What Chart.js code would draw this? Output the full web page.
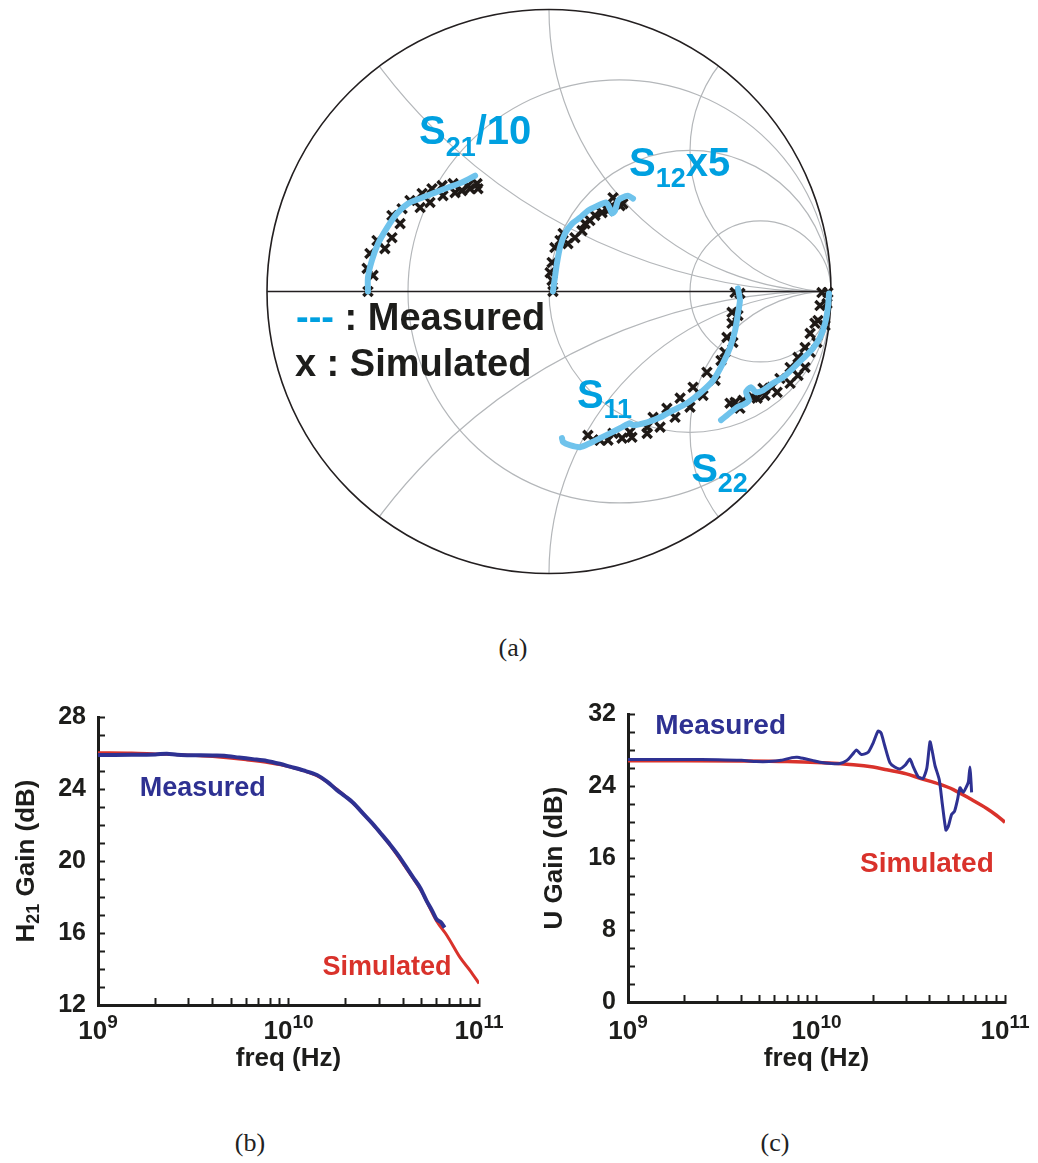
<!DOCTYPE html>
<html>
<head>
<meta charset="utf-8">
<script src="https://cdn.jsdelivr.net/npm/chart.js@4.4.1/dist/chart.umd.min.js"></script>
<style>
  body { margin: 0; background: #fff; }
  #page { position: relative; width: 1038px; height: 1163px; overflow: hidden; background: #fff; }
  canvas { position: absolute; }
  .cap { position: absolute; font-family: "Liberation Serif", "DejaVu Serif", serif; font-size: 26px; color: #222; transform: translate(-50%, -50%); }
</style>
</head>
<body>
<div id="page">
  <canvas id="smith" width="584" height="584" style="left:257px;top:0;width:584px;height:584px"></canvas>
  <div class="cap" style="left:513px;top:648px">(a)</div>
  <canvas id="h21" width="520" height="420" style="left:0;top:680px;width:520px;height:420px"></canvas>
  <canvas id="ugain" width="518" height="420" style="left:520px;top:680px;width:518px;height:420px"></canvas>
  <div class="cap" style="left:250px;top:1143px">(b)</div>
  <div class="cap" style="left:775px;top:1143px">(c)</div>
</div>
<script>
// --- Smith chart grid (normalised r / x of the gray curves)
const resistanceCircles = [1 / 3, 1, 3];
const reactanceArcs = [0.5, 1, 2, -0.5, -1, -2];

// --- S parameters, [Re, Im]
const s21Measured = [[-0.642, 0.000], [-0.642, 0.050], [-0.628, 0.110], [-0.606, 0.170], [-0.574, 0.227], [-0.539, 0.277],
  [-0.500, 0.312], [-0.450, 0.333], [-0.404, 0.351], [-0.358, 0.369], [-0.309, 0.387], [-0.262, 0.411]];
const s21Simulated = [[-0.642, 0.000], [-0.624, 0.057], [-0.645, 0.082], [-0.635, 0.135], [-0.582, 0.152], [-0.610, 0.181],
  [-0.557, 0.191], [-0.528, 0.241], [-0.557, 0.270], [-0.521, 0.294], [-0.457, 0.298], [-0.493, 0.323], [-0.422, 0.316],
  [-0.450, 0.348], [-0.376, 0.340], [-0.415, 0.365], [-0.333, 0.351], [-0.379, 0.376], [-0.309, 0.358], [-0.340, 0.383],
  [-0.280, 0.365], [-0.287, 0.376], [-0.252, 0.365], [-0.255, 0.383]];

const s12Measured = [[0.014, 0.000], [0.021, 0.050], [0.028, 0.099], [0.039, 0.156], [0.057, 0.206], [0.082, 0.241],
  [0.110, 0.262], [0.138, 0.287], [0.174, 0.305], [0.202, 0.316], [0.216, 0.294], [0.223, 0.277], [0.234, 0.287],
  [0.245, 0.323], [0.259, 0.333], [0.280, 0.340], [0.298, 0.330]];
const s12Simulated = [[0.014, 0.000], [0.011, 0.039], [0.004, 0.067], [0.011, 0.103], [0.021, 0.156], [0.039, 0.181],
  [0.050, 0.206], [0.067, 0.170], [0.092, 0.191], [0.117, 0.216], [0.128, 0.241], [0.145, 0.252], [0.163, 0.270],
  [0.188, 0.280], [0.209, 0.287], [0.223, 0.305], [0.227, 0.333], [0.252, 0.305], [0.262, 0.312]];

const s11Measured = [[0.670, 0.011], [0.677, -0.032], [0.670, -0.078], [0.660, -0.138], [0.642, -0.199], [0.617, -0.255],
  [0.582, -0.316], [0.535, -0.362], [0.489, -0.397], [0.440, -0.422], [0.394, -0.447], [0.348, -0.465], [0.298, -0.475],
  [0.287, -0.468], [0.259, -0.482], [0.216, -0.504], [0.181, -0.521], [0.145, -0.539], [0.110, -0.553], [0.074, -0.546],
  [0.050, -0.535], [0.046, -0.521]];
const s11Simulated = [[0.660, -0.004], [0.677, -0.007], [0.649, -0.074], [0.670, -0.085], [0.649, -0.113], [0.631, -0.163],
  [0.652, -0.181], [0.624, -0.216], [0.610, -0.245], [0.560, -0.287], [0.589, -0.316], [0.511, -0.340], [0.546, -0.369],
  [0.465, -0.379], [0.500, -0.411], [0.418, -0.415], [0.447, -0.447], [0.369, -0.447], [0.394, -0.482], [0.348, -0.482],
  [0.348, -0.504], [0.287, -0.500], [0.294, -0.518], [0.259, -0.521], [0.227, -0.504], [0.209, -0.528], [0.181, -0.528],
  [0.156, -0.528], [0.138, -0.511]];

const s22Measured = [[0.993, -0.007], [0.989, -0.057], [0.979, -0.113], [0.961, -0.163], [0.936, -0.202], [0.901, -0.238],
  [0.865, -0.273], [0.830, -0.305], [0.794, -0.326], [0.759, -0.351], [0.734, -0.358], [0.716, -0.340], [0.699, -0.358],
  [0.709, -0.387], [0.691, -0.401], [0.667, -0.411], [0.631, -0.440], [0.610, -0.457]];
const s22Simulated = [[0.968, -0.004], [0.989, -0.004], [0.961, -0.050], [0.986, -0.043], [0.954, -0.103], [0.979, -0.121],
  [0.943, -0.113], [0.926, -0.149], [0.950, -0.181], [0.908, -0.199], [0.926, -0.216], [0.883, -0.234], [0.908, -0.270],
  [0.855, -0.270], [0.883, -0.298], [0.819, -0.309], [0.855, -0.326], [0.791, -0.340], [0.809, -0.358], [0.759, -0.344],
  [0.766, -0.369], [0.723, -0.376], [0.738, -0.379], [0.688, -0.387], [0.677, -0.415], [0.660, -0.394], [0.642, -0.397]];

// --- (b) H21 gain, frequency in GHz
const h21MeasFreq = [1.0, 1.5, 2.0, 2.3, 2.6, 3.0, 4.0, 4.6, 5.5, 6.5, 7.7, 9.0, 10.2, 12.0, 14.1, 16.0, 17.9, 19.8,
  21.9, 24.8, 27.9, 31.0, 34.1, 37.8, 41.7, 45.0, 49.0, 53.0, 57.0, 60.0, 63.0, 66.0];
const h21Meas = [25.89, 25.90, 25.92, 25.96, 25.90, 25.88, 25.86, 25.85, 25.75, 25.66, 25.56, 25.40, 25.24, 25.03, 24.78,
  24.40, 23.95, 23.60, 23.22, 22.60, 22.02, 21.45, 20.92, 20.30, 19.63, 19.10, 18.53, 17.80, 17.20, 16.75, 16.60, 16.30];
const h21SimFreq = [1.0, 1.5, 2.0, 3.0, 4.0, 6.0, 8.0, 10.0, 14.0, 18.0, 22.0, 28.0, 34.0, 42.0, 50.0, 60.0, 68.0, 80.0, 90.0, 100.0];
const h21Sim = [26.02, 26.00, 25.95, 25.88, 25.80, 25.62, 25.45, 25.25, 24.75, 23.98, 23.18, 21.98, 20.90, 19.52, 18.30,
  16.65, 15.85, 14.60, 13.90, 13.20];

// --- (c) U gain, frequency in GHz
const uMeasFreq = [1.0, 2.0, 3.0, 4.0, 4.8, 5.6, 6.5, 7.4, 7.9, 8.6, 9.5, 10.4, 12.0, 13.3, 14.5, 15.5, 16.3, 17.3, 18.8,
  20.0, 21.2, 22.0, 23.0, 24.5, 26.0, 27.7, 29.5, 31.3, 32.5, 34.7, 36.8, 38.5, 40.0, 41.0, 42.5, 44.8, 46.5, 48.6,
  50.0, 52.1, 54.0, 56.0, 57.7, 60.0, 62.7, 64.0, 65.2, 66.0, 66.5];
const uMeas = [26.95, 26.95, 26.92, 26.85, 26.72, 26.72, 26.85, 27.15, 27.20, 27.05, 26.85, 26.65, 26.50, 26.50, 26.85,
  27.50, 28.00, 27.50, 27.75, 28.80, 30.10, 29.90, 28.50, 26.60, 26.10, 25.90, 26.30, 27.00, 26.20, 25.00, 24.85, 26.00,
  28.90, 28.00, 26.30, 24.70, 22.00, 19.10, 19.50, 20.85, 21.20, 22.50, 23.80, 23.30, 24.00, 24.50, 26.10, 24.50, 23.30];
const uSimFreq = [1.0, 2.0, 4.0, 7.0, 10.0, 15.7, 20.0, 23.6, 30.0, 35.4, 45.0, 53.2, 65.0, 80.0, 90.0, 100.0];
const uSim = [26.80, 26.80, 26.78, 26.72, 26.62, 26.37, 26.10, 25.80, 25.35, 24.86, 24.20, 23.60, 22.60, 21.50, 20.75, 19.97];

// --- ticks
const freqTicks = [1e9, 2e9, 3e9, 4e9, 5e9, 6e9, 7e9, 8e9, 9e9, 1e10, 2e10, 3e10, 4e10, 5e10, 6e10, 7e10, 8e10, 9e10, 1e11];
const decadeTicks = [1e9, 1e10, 1e11];
const decadeExps = ['9', '10', '11'];
const h21Labels = [12, 16, 20, 24, 28];
const uLabels = [0, 8, 16, 24, 32];

const FONT = '"Liberation Sans", Arial, Helvetica, sans-serif';
const INK = '#1d1d1b';
const CYAN = '#00a0e0';
const LIGHT_BLUE = '#6fc3ec';
const NAVY = '#2e3192';
const RED = '#d9322b';

Chart.defaults.font.family = FONT;
Chart.defaults.color = INK;

function pairs(list) { return list.map(p => ({ x: p[0], y: p[1] })); }
function series(freqs, vals) { return freqs.map((f, i) => ({ x: f * 1e9, y: vals[i] })); }

// draws [text, size, dy, color] pieces side by side
function drawRich(ctx, x, y, segs, align) {
  let total = 0;
  const widths = segs.map(s => {
    ctx.font = `bold ${s[1]}px ${FONT}`;
    const w = ctx.measureText(s[0]).width;
    total += w;
    return w;
  });
  let cx = align === 'center' ? x - total / 2 : x;
  ctx.textAlign = 'left';
  segs.forEach((s, i) => {
    ctx.font = `bold ${s[1]}px ${FONT}`;
    ctx.fillStyle = s[3] || INK;
    ctx.fillText(s[0], cx, y + s[2]);
    cx += widths[i];
  });
}

function richLabels(items, baseline) {
  return {
    id: 'richLabels',
    afterDatasetsDraw(chart) {
      const { ctx, scales: { x, y } } = chart;
      ctx.save();
      ctx.textBaseline = baseline;
      items.forEach(it => drawRich(ctx, x.getPixelForValue(it.x), y.getPixelForValue(it.y), it.segs, it.align));
      ctx.restore();
    }
  };
}

const smithGrid = {
  id: 'smithGrid',
  beforeDatasetsDraw(chart) {
    const { ctx, scales: { x, y } } = chart;
    const px = v => x.getPixelForValue(v);
    const py = v => y.getPixelForValue(v);
    const R = px(1) - px(0);
    ctx.save();
    ctx.beginPath();
    ctx.arc(px(0), py(0), R, 0, 2 * Math.PI);
    ctx.clip();
    ctx.strokeStyle = '#b4b7ba';
    ctx.lineWidth = 1.2;
    resistanceCircles.forEach(r => {
      ctx.beginPath();
      ctx.arc(px(r / (1 + r)), py(0), R / (1 + r), 0, 2 * Math.PI);
      ctx.stroke();
    });
    reactanceArcs.forEach(xv => {
      ctx.beginPath();
      ctx.arc(px(1), py(1 / xv), R / Math.abs(xv), 0, 2 * Math.PI);
      ctx.stroke();
    });
    ctx.restore();

    ctx.save();
    ctx.strokeStyle = '#231f20';
    ctx.lineWidth = 1.6;
    ctx.beginPath();
    ctx.arc(px(0), py(0), R, 0, 2 * Math.PI);
    ctx.stroke();
    ctx.beginPath();
    ctx.moveTo(px(-1), py(0));
    ctx.lineTo(px(1), py(0));
    ctx.stroke();
    ctx.restore();
  }
};

function decadeLabels(offset) {
  return {
    id: 'decadeLabels',
    afterDraw(chart) {
      const { ctx, scales: { x }, chartArea } = chart;
      ctx.save();
      ctx.textBaseline = 'alphabetic';
      decadeTicks.forEach((v, i) => {
        drawRich(ctx, x.getPixelForValue(v), chartArea.bottom + offset,
          [['10', 26, 0, INK], [decadeExps[i], 19, -11, INK]], 'center');
      });
      ctx.restore();
    }
  };
}

const h21Title = {
  id: 'h21Title',
  afterDraw(chart) {
    const { ctx, chartArea } = chart;
    ctx.save();
    ctx.translate(27, (chartArea.top + chartArea.bottom) / 2);
    ctx.rotate(-Math.PI / 2);
    ctx.textBaseline = 'middle';
    drawRich(ctx, 0, 0, [['H', 26, 0, INK], ['21', 18, 7, INK], [' Gain (dB)', 26, 0, INK]], 'center');
    ctx.restore();
  }
};

function freqAxis(height) {
  return {
    type: 'logarithmic',
    min: 1e9,
    max: 1e11,
    afterBuildTicks: s => { s.ticks = freqTicks.map(v => ({ value: v })); },
    afterFit: s => { s.height = height; },
    border: { display: true, width: 3, color: INK },
    grid: { display: true, drawOnChartArea: false, drawTicks: true, tickLength: -7, tickWidth: 2, color: INK, tickColor: INK },
    ticks: { autoSkip: false, maxRotation: 0, callback: () => '' },
    title: { display: true, text: 'freq (Hz)', color: INK, font: { size: 26, weight: 'bold' }, padding: { top: 0, bottom: 26 } }
  };
}

function gainAxis(min, max, step, labels, width, title) {
  const axis = {
    min: min,
    max: max,
    afterFit: s => { s.width = width; },
    border: { display: true, width: 3, color: INK },
    grid: { display: true, drawOnChartArea: false, drawTicks: true, tickLength: -7, tickWidth: 2, color: INK, tickColor: INK },
    ticks: {
      stepSize: step, maxTicksLimit: 40, autoSkip: false, padding: 19, color: INK,
      font: { size: 25, weight: 'bold' },
      callback: v => labels.includes(v) ? String(v) : ''
    }
  };
  if (title) {
    axis.title = { display: true, text: title, color: INK, font: { size: 26, weight: 'bold' }, padding: { top: 19, bottom: 0 } };
  }
  return axis;
}

function measuredStyle(data) {
  return { data: data, showLine: true, pointRadius: 0, borderColor: LIGHT_BLUE, borderWidth: 6,
    borderCapStyle: 'round', borderJoinStyle: 'round', tension: 0.25, clip: false };
}
function simulatedStyle(data) {
  return { data: data, showLine: false, pointStyle: 'crossRot', pointRadius: 6.5, pointBorderWidth: 3.4,
    pointBorderColor: '#1f1a17', pointBackgroundColor: '#1f1a17', clip: false };
}

// (a) Smith chart
const smithText = [
  { x: -0.461, y: 0.525, segs: [['S', 40, 0, CYAN], ['21', 27, 12, CYAN], ['/10', 40, 0, CYAN]] },
  { x: 0.284, y: 0.411, segs: [['S', 40, 0, CYAN], ['12', 27, 11, CYAN], ['x5', 40, 0, CYAN]] },
  { x: 0.099, y: -0.415, segs: [['S', 40, 0, CYAN], ['11', 27, 10, CYAN]] },
  { x: 0.504, y: -0.677, segs: [['S', 40, 0, CYAN], ['22', 27, 10, CYAN]] },
  { x: -0.897, y: -0.138, segs: [['---', 38, 0, CYAN], [' : Measured', 38, 0, INK]] },
  { x: -0.901, y: -0.301, segs: [['x : Simulated', 38, 0, INK]] }
];

new Chart(document.getElementById('smith'), {
  type: 'scatter',
  data: {
    datasets: [
      measuredStyle(pairs(s21Measured)),
      measuredStyle(pairs(s12Measured)),
      measuredStyle(pairs(s11Measured)),
      measuredStyle(pairs(s22Measured)),
      simulatedStyle(pairs(s21Simulated)),
      simulatedStyle(pairs(s12Simulated)),
      simulatedStyle(pairs(s11Simulated)),
      simulatedStyle(pairs(s22Simulated))
    ]
  },
  options: {
    responsive: false,
    animation: false,
    layout: { padding: { left: 10, right: 10, top: 9, bottom: 11 } },
    scales: {
      x: { type: 'linear', min: -1, max: 1, display: false },
      y: { type: 'linear', min: -1, max: 1, display: false }
    },
    plugins: { legend: { display: false }, tooltip: { enabled: false } }
  },
  plugins: [smithGrid, richLabels(smithText, 'alphabetic')]
});

// (b) H21 gain
const h21Text = [
  { x: 3.55e9, y: 24.05, align: 'center', segs: [['Measured', 27, 0, NAVY]] },
  { x: 3.29e10, y: 14.06, align: 'center', segs: [['Simulated', 27, 0, RED]] }
];

new Chart(document.getElementById('h21'), {
  type: 'scatter',
  data: {
    datasets: [
      { data: series(h21MeasFreq, h21Meas), showLine: true, pointRadius: 0, borderColor: NAVY, borderWidth: 4, tension: 0.3 },
      { data: series(h21SimFreq, h21Sim), showLine: true, pointRadius: 0, borderColor: RED, borderWidth: 3, cubicInterpolationMode: 'monotone' }
    ]
  },
  options: {
    responsive: false,
    animation: false,
    layout: { padding: { left: 0, right: 41, top: 37, bottom: 0 } },
    scales: { x: freqAxis(95), y: gainAxis(12, 28, 1, h21Labels, 98) },
    plugins: { legend: { display: false }, tooltip: { enabled: false } }
  },
  plugins: [decadeLabels(34), h21Title, richLabels(h21Text, 'middle')]
});

// (c) U gain
const uText = [
  { x: 3.1e9, y: 30.63, align: 'center', segs: [['Measured', 28, 0, NAVY]] },
  { x: 3.85e10, y: 15.32, align: 'center', segs: [['Simulated', 28, 0, RED]] }
];

new Chart(document.getElementById('ugain'), {
  type: 'scatter',
  data: {
    datasets: [
      { data: series(uMeasFreq, uMeas), showLine: true, pointRadius: 0, borderColor: NAVY, borderWidth: 3, tension: 0.2 },
      { data: series(uSimFreq, uSim), showLine: true, pointRadius: 0, borderColor: RED, borderWidth: 3.5, cubicInterpolationMode: 'monotone' }
    ]
  },
  options: {
    responsive: false,
    animation: false,
    layout: { padding: { left: 0, right: 33, top: 17, bottom: 0 } },
    scales: { x: freqAxis(98), y: gainAxis(0, 32, 2, uLabels, 108, 'U Gain (dB)') },
    plugins: { legend: { display: false }, tooltip: { enabled: false } }
  },
  plugins: [decadeLabels(37), richLabels(uText, 'middle')]
});
</script>
</body>
</html>
